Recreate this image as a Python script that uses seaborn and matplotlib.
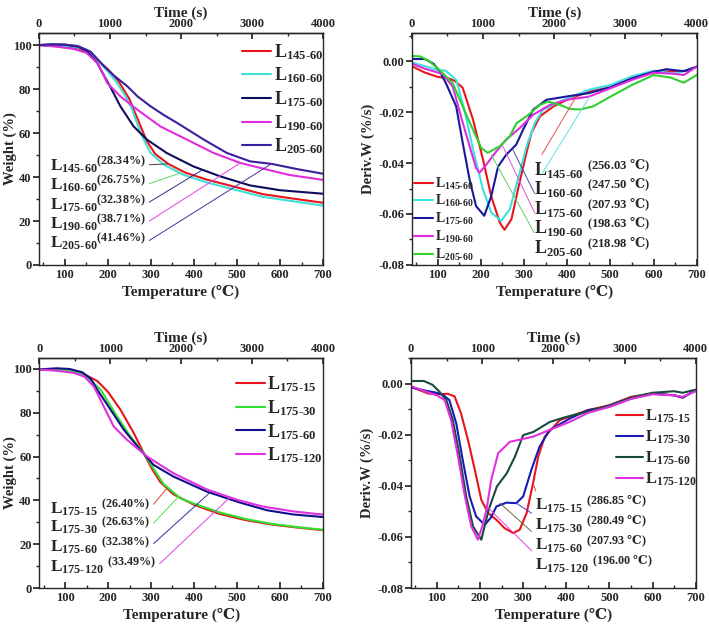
import numpy as np
import pandas as pd
import matplotlib
matplotlib.use("Agg")
import matplotlib.pyplot as plt
import seaborn as sns
from matplotlib.ticker import MultipleLocator, FormatStrFormatter

# ---- TG, series A (top left) ----
tg_a_names = ["145-60", "160-60", "175-60", "190-60", "205-60"]
tg_a_T = {
    "145-60": [40, 80, 120, 150, 175, 200, 225, 250, 270, 290, 310, 340, 380, 430, 490, 560, 630, 700],
    "160-60": [40, 80, 120, 150, 175, 200, 221, 240, 255, 276, 299, 330, 376, 430, 490, 560, 630, 700],
    "175-60": [40, 70, 100, 130, 150, 175, 190, 205, 229, 260, 291, 337, 399, 461, 530, 600, 650, 700],
    "190-60": [40, 80, 120, 150, 175, 190, 198, 229, 268, 322, 384, 446, 508, 555, 620, 700],
    "205-60": [40, 70, 100, 130, 160, 191, 215, 245, 270, 299, 330, 361, 423, 477, 531, 580, 640, 700],
}
tg_a_W = {
    "145-60": [100, 99.5, 98.5, 97, 93.5, 89, 83.5, 75.5, 66, 56.5, 50.5, 46, 42, 38.8, 35.8, 32.2, 30.2, 28.3],
    "160-60": [100, 99.8, 99.3, 98, 93.5, 88, 82.9, 77, 71.5, 60, 51, 45.6, 41, 37.5, 34.5, 31, 29, 27],
    "175-60": [100, 100.3, 100.2, 99.3, 97.5, 92, 86.5, 81.3, 72.2, 63, 57, 50.9, 44.8, 40.3, 36.2, 34, 33.2, 32.4],
    "190-60": [100, 99.3, 98.3, 96.5, 92, 86.5, 82.9, 76.7, 70.7, 63, 57, 50.9, 46.4, 44.1, 41, 38.7],
    "205-60": [100, 100.3, 100.2, 99.6, 97, 90.4, 86, 81.3, 76.5, 72.2, 68.2, 64.6, 57, 50.9, 47.1, 46, 43.6, 41.5],
}
tg_a_res = ["28.34%", "26.75%", "32.38%", "38.71%", "41.46%"]

# ---- DTG, series A (top right) ----
dtg_a_T = {
    "145-60": [40, 70, 100, 125, 140, 158, 182, 205, 224, 244, 255, 271, 286, 302, 317, 337, 368, 400, 450, 500, 550, 600, 650, 680, 700],
    "160-60": [40, 70, 100, 119, 143, 162, 182, 205, 224, 247, 267, 286, 306, 325, 344, 383, 450, 500, 550, 600, 650, 700],
    "175-60": [40, 70, 90, 105, 120, 143, 158, 174, 189, 208, 224, 240, 259, 282, 298, 321, 352, 399, 450, 500, 550, 600, 630, 670, 700],
    "190-60": [40, 70, 100, 112, 135, 154, 174, 189, 197, 213, 236, 259, 290, 321, 360, 399, 450, 500, 550, 600, 650, 670, 700],
    "205-60": [40, 60, 80, 104, 135, 158, 182, 201, 216, 244, 267, 283, 306, 337, 356, 383, 406, 430, 460, 500, 550, 600, 640, 670, 700],
}
dtg_a_D = {
    "145-60": [-0.002, -0.0045, -0.0062, -0.0068, -0.0078, -0.0105, -0.023, -0.0386, -0.053, -0.0634, -0.0662, -0.062, -0.0504, -0.0386, -0.0282, -0.0217, -0.0178, -0.0152, -0.012, -0.0103, -0.0068, -0.0042, -0.004, -0.0038, -0.0022],
    "160-60": [-0.0005, -0.002, -0.0035, -0.0038, -0.0074, -0.0191, -0.0347, -0.0504, -0.0594, -0.0627, -0.0582, -0.0464, -0.0334, -0.0243, -0.0191, -0.0159, -0.0113, -0.0094, -0.006, -0.0038, -0.005, -0.0022],
    "175-60": [0.0008, 0.0008, -0.001, -0.004, -0.009, -0.0178, -0.032, -0.0465, -0.0569, -0.0607, -0.0531, -0.0414, -0.0367, -0.0328, -0.0269, -0.0191, -0.0152, -0.0139, -0.0126, -0.0103, -0.0068, -0.0042, -0.0032, -0.004, -0.0022],
    "190-60": [-0.001, -0.003, -0.0045, -0.0052, -0.01, -0.0217, -0.0334, -0.0419, -0.0438, -0.0406, -0.0354, -0.0308, -0.0263, -0.0211, -0.0172, -0.0152, -0.014, -0.0107, -0.0074, -0.0046, -0.005, -0.0055, -0.0022],
    "205-60": [0.002, 0.0018, 0.0, -0.0035, -0.0087, -0.0178, -0.027, -0.0341, -0.036, -0.0334, -0.0295, -0.0243, -0.0217, -0.0172, -0.0159, -0.0172, -0.0188, -0.019, -0.0178, -0.014, -0.0094, -0.0055, -0.0065, -0.0085, -0.0055],
}
dtg_a_peak = ["256.03", "247.50", "207.93", "198.63", "218.98"]

# ---- TG, series B (bottom left) ----
tg_b_names = ["175-15", "175-30", "175-60", "175-120"]
tg_b_T = {
    "175-15": [40, 80, 120, 150, 175, 200, 229, 260, 283, 302, 322, 352, 400, 460, 520, 580, 640, 700],
    "175-30": [40, 80, 120, 150, 183, 221, 252, 283, 306, 329, 368, 400, 460, 520, 580, 640, 700],
    "175-60": [40, 80, 110, 140, 160, 175, 206, 237, 275, 306, 352, 430, 507, 570, 630, 700],
    "175-120": [40, 80, 120, 145, 167, 190, 213, 244, 291, 352, 430, 500, 560, 630, 700],
}
tg_b_W = {
    "175-15": [99.8, 99.4, 98.6, 97, 94.5, 89.5, 81.4, 70.7, 61.6, 54.5, 48.3, 42.8, 38, 33.8, 31, 29, 27.6, 26.4],
    "175-30": [99.8, 99.6, 98.8, 96.5, 90.5, 78.3, 69.2, 61.6, 54.5, 47.5, 41, 38.5, 34.5, 31.5, 29.3, 27.8, 26.6],
    "175-60": [99.8, 100.3, 100, 98.5, 95.5, 90.5, 81.4, 72.2, 63.1, 56.2, 50.9, 44, 39, 35.5, 33.6, 32.4],
    "175-120": [99.8, 99.2, 98.2, 96.5, 92, 82.9, 73.8, 67.7, 60, 52.4, 45, 40.3, 37.2, 35, 33.5],
}
tg_b_res = ["26.40%", "26.63%", "32.38%", "33.49%"]

# ---- DTG, series B (bottom right) ----
dtg_b_T = {
    "175-15": [40, 80, 100, 125, 141, 156, 172, 188, 203, 219, 238, 257, 277, 292, 308, 323, 335, 350, 385, 450, 500, 550, 600, 650, 670, 700],
    "175-30": [40, 80, 100, 115, 129, 145, 160, 176, 191, 211, 225, 238, 261, 284, 300, 319, 338, 361, 408, 450, 500, 550, 600, 650, 670, 700],
    "175-60": [40, 70, 90, 105, 122, 137, 153, 168, 184, 203, 220, 239, 262, 281, 300, 324, 362, 401, 450, 500, 550, 600, 650, 670, 700],
    "175-120": [40, 80, 100, 118, 133, 149, 165, 180, 195, 205, 215, 226, 242, 269, 323, 369, 408, 450, 500, 550, 600, 650, 670, 700],
}
dtg_b_D = {
    "175-15": [-0.0013, -0.0039, -0.0042, -0.004, -0.005, -0.0117, -0.022, -0.0338, -0.0455, -0.0507, -0.0533, -0.0566, -0.0585, -0.0572, -0.0507, -0.039, -0.0286, -0.0208, -0.0143, -0.0104, -0.0085, -0.0052, -0.0039, -0.0046, -0.0055, -0.0026],
    "175-30": [-0.0015, -0.003, -0.0036, -0.0045, -0.0065, -0.0156, -0.03, -0.0442, -0.052, -0.0553, -0.0525, -0.0481, -0.0466, -0.0468, -0.0442, -0.0338, -0.0247, -0.0182, -0.0137, -0.0104, -0.0091, -0.0059, -0.0039, -0.0046, -0.0055, -0.0026],
    "175-60": [0.001, 0.001, -0.0005, -0.003, -0.0065, -0.0143, -0.0286, -0.0442, -0.056, -0.0611, -0.0494, -0.0403, -0.0351, -0.0286, -0.0202, -0.0189, -0.015, -0.013, -0.011, -0.0085, -0.0055, -0.0036, -0.003, -0.0036, -0.0024],
    "175-120": [-0.001, -0.0035, -0.0046, -0.0065, -0.0143, -0.0286, -0.0442, -0.056, -0.0611, -0.056, -0.0494, -0.0377, -0.0273, -0.0228, -0.0208, -0.0176, -0.015, -0.0115, -0.0091, -0.006, -0.0042, -0.0046, -0.0052, -0.003],
}
dtg_b_peak = ["286.85", "280.49", "207.93", "196.00"]

col_tg_a = ["#e8141c", "#3fe0d8", "#0c0c5a", "#e02ce0", "#3c1ea0"]
col_dtg_a = ["#e8141c", "#3fe0e0", "#18189a", "#e02ce0", "#30d030"]
col_tg_b = ["#e8141c", "#30e030", "#10108c", "#e030e0"]
col_dtg_b = ["#e8141c", "#1a1ab4", "#184a40", "#e030e0"]

sns.set_theme(style="ticks")
plt.rcParams["font.family"] = ["Liberation Serif", "DejaVu Serif"]
plt.rcParams["font.weight"] = "bold"
plt.rcParams["axes.labelweight"] = "bold"
plt.rcParams["mathtext.fontset"] = "custom"
plt.rcParams["mathtext.rm"] = "Liberation Serif:bold"
plt.rcParams["mathtext.bf"] = "Liberation Serif:bold"
plt.rcParams["mathtext.it"] = "Liberation Serif:bold:italic"
plt.rcParams["mathtext.sf"] = "DejaVu Serif:bold"
plt.rcParams["axes.linewidth"] = 1.0

DEG = r"\mathsf{℃}"


def lab(name):
    return r"L$_{\text{%s}}$" % name


def draw(ax, T, V, names, colors):
    rows = []
    for n in names:
        rows.append(pd.DataFrame({"T": T[n], "v": V[n], "s": n}))
    df = pd.concat(rows, ignore_index=True)
    sns.lineplot(data=df, x="T", y="v", hue="s", hue_order=names,
                 palette=dict(zip(names, colors)), estimator=None, sort=False,
                 lw=1.5, legend=False, ax=ax)


def style(ax, ylab, ylim, ymaj, ymin, ylx):
    ax.set_xlim(40, 700)
    ax.set_ylim(*ylim)
    ax.xaxis.set_major_locator(MultipleLocator(100))
    ax.xaxis.set_minor_locator(MultipleLocator(50))
    ax.yaxis.set_major_locator(MultipleLocator(ymaj))
    ax.yaxis.set_minor_locator(MultipleLocator(ymin))
    ax.tick_params(axis="x", which="both", direction="in", labelsize=9, pad=3)
    ax.tick_params(axis="y", which="both", direction="out", labelsize=9, pad=1.5)
    ax.tick_params(which="major", length=4)
    ax.tick_params(which="minor", length=2.5)
    ax.set_xlabel("Temperature (℃)", fontsize=11, labelpad=2.5)
    ax.set_ylabel(ylab, fontsize=10.5)
    ax.yaxis.set_label_coords(ylx, 0.5)
    for s in ax.spines.values():
        s.set_visible(True)
    top = ax.secondary_xaxis("top", functions=(lambda T: (T - 40) * 4000 / 660,
                                                lambda t: t * 660 / 4000 + 40))
    top.xaxis.set_major_locator(MultipleLocator(1000))
    top.xaxis.set_minor_locator(MultipleLocator(500))
    top.tick_params(which="both", direction="in", labelsize=9, pad=2)
    top.tick_params(which="major", length=4)
    top.tick_params(which="minor", length=2.5)
    top.set_xlabel("Time (s)", fontsize=11, labelpad=1)


def note(ax, txt, xy, xytext, color, relpos, fs):
    ax.annotate(txt, xy=xy, xytext=xytext, fontsize=fs, ha="left", va="center",
                arrowprops=dict(arrowstyle="-", color=color, lw=0.7, relpos=relpos,
                                shrinkA=0, shrinkB=0))


fig = plt.figure(figsize=(7.09, 6.26), dpi=100)
ax1 = fig.add_axes([0.055, 0.5767, 0.4006, 0.3706])
ax2 = fig.add_axes([0.5807, 0.5767, 0.402, 0.3706])
ax3 = fig.add_axes([0.0554, 0.0607, 0.400, 0.3674])
ax4 = fig.add_axes([0.5797, 0.0607, 0.4015, 0.3674])

# top left
draw(ax1, tg_a_T, tg_a_W, tg_a_names, col_tg_a)
style(ax1, "Weight (%)", (0, 105.5), 20, 10, -0.078)
ax1.legend(handles=ax1.get_lines()[:5], labels=[lab(n) for n in tg_a_names],
           loc="upper right", bbox_to_anchor=(1.02, 0.985), frameon=False,
           fontsize=13, handlelength=1.6, handletextpad=0.15, labelspacing=0.22,
           borderaxespad=0.1, borderpad=0.2)
lead_a = ["#404040", "#60d060", "#303080", "#e040e0", "#5030a0"]
a_tx = [340, 368, 420, 508, 580]
a_ty = [45.5, 36.5, 27.7, 19, 10.2]
for i, n in enumerate(tg_a_names):
    yv = np.interp(a_tx[i], tg_a_T[n], tg_a_W[n])
    note(ax1, r"L$_{\text{%s}}{}^{\text{(%s)}}$" % (n, tg_a_res[i]),
         (a_tx[i], yv), (66, a_ty[i]), lead_a[i], (1, 0.5), 12.5)

# top right
draw(ax2, dtg_a_T, dtg_a_D, tg_a_names, col_dtg_a)
style(ax2, "Deriv.W (%/s)", (-0.08, 0.011), 0.02, 0.01, -0.13)
ax2.yaxis.set_major_formatter(FormatStrFormatter("%.2f"))
ax2.legend(handles=ax2.get_lines()[:5], labels=[lab(n) for n in tg_a_names],
           loc="lower left", bbox_to_anchor=(-0.005, -0.01), frameon=False,
           fontsize=10, handlelength=1.3, handletextpad=0.15, labelspacing=0.13,
           borderaxespad=0.1, borderpad=0.2)
lead_b = ["#e05050", "#60e0e0", "#5050a0", "#e050e0", "#60d060"]
b_xy = [(421, -0.0139), (452, -0.0139), (274, -0.0347), (251, -0.0334), (224, -0.0367)]
b_ty = [-0.0425, -0.0500, -0.0577, -0.0653, -0.0731]
for i, n in enumerate(tg_a_names):
    note(ax2, r"L$_{\text{%s}}\ {}^{\text{(%s }%s\text{)}}$" % (n, dtg_a_peak[i], DEG),
         b_xy[i], (324, b_ty[i]), lead_b[i], (0.03, 0.85), 13)

# bottom left
draw(ax3, tg_b_T, tg_b_W, tg_b_names, col_tg_b)
style(ax3, "Weight (%)", (0, 105), 20, 10, -0.078)
ax3.legend(handles=ax3.get_lines()[:4], labels=[lab(n) for n in tg_b_names],
           loc="upper right", bbox_to_anchor=(1.02, 0.952), frameon=False,
           fontsize=13, handlelength=1.6, handletextpad=0.15, labelspacing=0.22,
           borderaxespad=0.1, borderpad=0.2)
c_tx = [337, 364, 437, 484]
c_ty = [36.4, 28, 18.9, 9.7]
lead_c = ["#e04040", "#50e050", "#3030a0", "#e040e0"]
for i, n in enumerate(tg_b_names):
    yv = np.interp(c_tx[i], tg_b_T[n], tg_b_W[n])
    note(ax3, r"L$_{\text{%s}}\ {}^{\text{(%s)}}$" % (n, tg_b_res[i]),
         (c_tx[i], yv), (65, c_ty[i]), lead_c[i], (1, 0.5), 12.5)

# bottom right
draw(ax4, dtg_b_T, dtg_b_D, tg_b_names, col_dtg_b)
style(ax4, "Deriv.W (%/s)", (-0.08, 0.01), 0.02, 0.01, -0.13)
ax4.yaxis.set_major_formatter(FormatStrFormatter("%.2f"))
ax4.legend(handles=ax4.get_lines()[:4], labels=[lab(n) for n in tg_b_names],
           loc="upper right", bbox_to_anchor=(1.02, 0.805), frameon=False,
           fontsize=12, handlelength=1.6, handletextpad=0.1, labelspacing=0.22,
           borderaxespad=0.1, borderpad=0.2)
d_xy = [(323, -0.039), (284, -0.0468), (246, -0.0468), (215, -0.048)]
d_ty = [-0.0475, -0.0553, -0.0631, -0.0709]
lead_d = ["#e04040", "#4040c0", "#6b6b3a", "#e040e0"]
for i, n in enumerate(tg_b_names):
    note(ax4, r"L$_{\text{%s}}\ {}^{\text{(%s }%s\text{)}}$" % (n, dtg_b_peak[i], DEG),
         d_xy[i], (327, d_ty[i]), lead_d[i], (0.03, 0.85), 12.5)

fig.savefig("out.png", dpi=100)
